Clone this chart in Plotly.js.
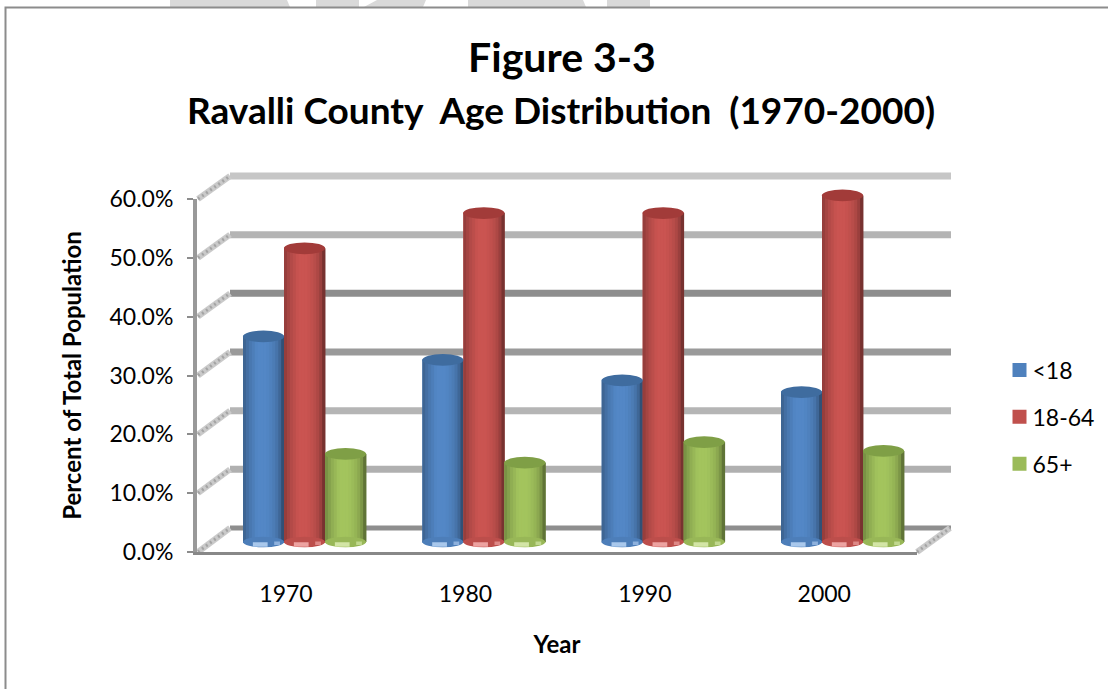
<!DOCTYPE html>
<html>
<head>
<meta charset="utf-8">
<script src="https://cdn.plot.ly/plotly-3.0.1.min.js"></script>
<style>html,body{margin:0;padding:0;background:#fff}#c{width:1108px;height:689px}</style>
</head>
<body>
<div id="c"></div>
<script>
// ---- data ----
const years = ['1970', '1980', '1990', '2000'];
const under18 = [35, 31, 27.5, 25.5];
const adults = [50, 56, 56, 59];
const over65 = [15, 13.5, 17, 15.5];
const seriesNames = ['<18', '18-64', '65+'];
const gridTicks = [0, 10, 20, 30, 40, 50, 60];
const tickLabels = ['0.0%', '10.0%', '20.0%', '30.0%', '40.0%', '50.0%', '60.0%'];

// ---- style ----
const W = 1108, H = 689;
const baseColors = [[79, 129, 189], [192, 80, 77], [155, 187, 89]];
const capColors = ['#3f6c9f', '#a23b39', '#7f9f46'];
const footColors = ['#a9c8ec', '#eda3a1', '#d3e5a6'];
const gridColors = ['#8e8e8e', '#b0b0b0', '#b5b5b5', '#9a9a9a', '#8e8e8e', '#b4b4b4', '#c6c6c6'];
const shade = [0.78, 0.86, 0.93, 0.98, 1.03, 1.05, 1.05, 1.05, 1.03, 1.0, 0.96, 0.9, 0.8, 0.62];
const FONT = 'Lato, Carlito, "Open Sans", sans-serif';

const dx = a => a / W;
const dy = a => 1 - a / H;
const rgb = (c, f) => `rgb(${c.map(v => Math.min(255, Math.round(v * f))).join(',')})`;

// three depth planes of the fake 3-D box (pixel geometry)
const front = {l: 197, r: 917, y0: 552, y60: 199};
const back = {l: 230, r: 951, y0: 528, y60: 176};
const mid = {l: 214.5, r: 934.5, y0: 553.75, y62: 177.75};
const frontY = v => front.y0 + (front.y60 - front.y0) * v / 60;
const backY = v => back.y0 + (back.y60 - back.y0) * v / 60;

const seriesValues = [under18, adults, over65];
const barW = 0.2286;
const onePx = 1 / 179.33;
const idx = years.map((_, i) => i);
const traces = [];
const shapes = [];

// remains of the background picture above the frame, then the frame itself
const bgPolys = [
  [[170, 0], [287, 0], [290, 7], [170, 7]],
  [[316, 0], [359, 0], [359, 7], [316, 7]],
  [[377, 0], [426, 0], [423, 7], [364, 7]],
  [[468, 0], [583, 0], [586, 7], [468, 7]],
  [[607, 0], [650, 0], [650, 7], [607, 7]]
];
bgPolys.forEach(p => {
  shapes.push({type: 'path', xref: 'paper', yref: 'paper', layer: 'below', line: {width: 0}, fillcolor: '#d9d9d9',
    path: 'M' + p.map(q => `${dx(q[0])},${dy(q[1])}`).join(' L') + ' Z'});
});
shapes.push({type: 'path', xref: 'paper', yref: 'paper', layer: 'below', line: {color: '#8c8c8c', width: 2},
  path: `M${dx(5.5)},0 L${dx(5.5)},${dy(7.5)} L1,${dy(7.5)}`});

const diagonal = (x0, y0, x1, y1) => {
  shapes.push({type: 'line', xref: 'paper', yref: 'paper', layer: 'below',
    x0: dx(x0), x1: dx(x1), y0: dy(y0), y1: dy(y1), line: {color: '#cacaca', width: 6}});
  shapes.push({type: 'line', xref: 'paper', yref: 'paper', layer: 'below',
    x0: dx(x0), x1: dx(x1), y0: dy(y0), y1: dy(y1), line: {color: '#a4a4a4', width: 3, dash: '2px,3px'}});
};

// back wall gridlines and side wall diagonals
gridTicks.forEach((t, i) => {
  shapes.push({type: 'line', xref: 'x2 domain', yref: 'y2', layer: 'below', x0: 0, x1: 1, y0: t, y1: t,
    line: {color: gridColors[i], width: i === 0 ? 5 : 7}});
  diagonal(front.l + 1, frontY(t), back.l, backY(t));
});
diagonal(front.r, front.y0, back.r - 1, back.y0);

// cylinders: a full-width bar plus narrow shaded strips
seriesValues.forEach((vals, s) => {
  const left = (s - 1.5) * barW;
  traces.push({type: 'bar', xaxis: 'x3', yaxis: 'y3', x: idx, y: vals, width: barW - 2 * onePx, offset: left + onePx,
    name: seriesNames[s], legendgroup: seriesNames[s], showlegend: true, hoverinfo: 'skip',
    marker: {color: rgb(baseColors[s], 1), line: {width: 2, color: rgb(baseColors[s], 1)}}});
  const sw = barW / shade.length;
  shade.forEach((f, k) => {
    traces.push({type: 'bar', xaxis: 'x3', yaxis: 'y3', x: idx, y: vals, width: sw * 1.15, offset: left + k * sw,
      name: seriesNames[s], legendgroup: seriesNames[s], showlegend: false, hoverinfo: 'skip',
      marker: {color: rgb(baseColors[s], f), line: {width: 0}}});
  });
  vals.forEach((v, i) => {
    const x0 = i + left, x1 = x0 + barW;
    // rounded foot
    shapes.push({type: 'circle', xref: 'x3', yref: 'y3', layer: 'above', x0, x1, y0: -0.9, y1: 0.9,
      fillcolor: rgb(baseColors[s], 0.98), line: {width: 0}});
    shapes.push({type: 'rect', xref: 'x3', yref: 'y3', layer: 'above',
      x0: x0 + barW * 0.24, x1: x0 + barW * 0.6, y0: -0.8, y1: -0.05,
      fillcolor: footColors[s], line: {width: 0}});
    shapes.push({type: 'rect', xref: 'x3', yref: 'y3', layer: 'above',
      x0: x0 + barW * 0.76, x1: x0 + barW * 0.9, y0: -0.5, y1: 0.1,
      fillcolor: footColors[s], opacity: 0.7, line: {width: 0}});
    // cap
    shapes.push({type: 'circle', xref: 'x3', yref: 'y3', layer: 'above', x0, x1, y0: v - 1, y1: v + 1,
      fillcolor: capColors[s], line: {width: 0}});
  });
});

// anchor traces so the front and back planes exist as subplots
traces.push({type: 'scatter', mode: 'none', x: idx, y: idx.map(() => 0), xaxis: 'x', yaxis: 'y', showlegend: false, hoverinfo: 'skip'});
traces.push({type: 'scatter', mode: 'none', x: idx, y: idx.map(() => 0), xaxis: 'x2', yaxis: 'y2', showlegend: false, hoverinfo: 'skip'});

const hidden = {showgrid: false, zeroline: false, showline: false, ticks: '', showticklabels: false, fixedrange: true};
const backUnit = (back.y0 - back.y60) / 60;

const layout = {
  width: W, height: H, autosize: false,
  margin: {l: 0, r: 0, t: 0, b: 0},
  paper_bgcolor: '#ffffff', plot_bgcolor: 'rgba(0,0,0,0)',
  barmode: 'overlay',
  font: {family: FONT, color: '#000000', size: 23},
  title: {text: '<b>Figure 3-3</b>', font: {family: FONT, size: 41, color: '#000'},
    x: 562 / W, xanchor: 'center', xref: 'paper', y: dy(58), yanchor: 'middle', yref: 'paper'},
  annotations: [{text: '<b>Ravalli County  Age Distribution  (1970-2000)</b>', xref: 'paper', yref: 'paper',
    x: 561 / W, y: dy(110), xanchor: 'center', yanchor: 'middle', showarrow: false,
    font: {family: FONT, size: 37, color: '#000'}}],
  showlegend: true,
  legend: {x: dx(999.5), y: dy(417), xanchor: 'left', yanchor: 'middle', tracegroupgap: 14,
    font: {family: FONT, size: 23, color: '#000'}, bgcolor: 'rgba(0,0,0,0)', borderwidth: 0},
  xaxis: {domain: [dx(front.l), dx(front.r)], range: [-0.496, 3.517], anchor: 'y',
    tickmode: 'array', tickvals: idx, ticktext: years, ticks: '', showgrid: false, zeroline: false,
    showline: true, linecolor: '#888888', linewidth: 3, ticklabelstandoff: 19,
    tickfont: {family: FONT, size: 23, color: '#000'},
    title: {text: '<b>Year</b>', font: {family: FONT, size: 24, color: '#000'}, standoff: 31}},
  yaxis: {domain: [dy(front.y0), dy(front.y60)], range: [0, 60], anchor: 'x',
    tickmode: 'array', tickvals: gridTicks, ticktext: tickLabels, ticks: 'outside', ticklen: 6, tickwidth: 2,
    tickcolor: '#8c8c8c', showgrid: false, zeroline: false, showline: true, linecolor: '#999999', linewidth: 4,
    ticklabelstandoff: 9, tickfont: {family: FONT, size: 23, color: '#000'},
    title: {text: '<b>Percent of Total Population</b>', font: {family: FONT, size: 24, color: '#000'}, standoff: 22}},
  xaxis2: Object.assign({domain: [dx(back.l), dx(back.r)], range: [-0.5, 3.5], anchor: 'y2'}, hidden),
  yaxis2: Object.assign({domain: [dy(back.y0 + 2 * backUnit), dy(back.y60 - 2 * backUnit)], range: [-2, 62], anchor: 'x2'}, hidden),
  xaxis3: Object.assign({domain: [dx(mid.l), dx(mid.r)], range: [-0.502, 3.513], anchor: 'y3'}, hidden),
  yaxis3: Object.assign({domain: [dy(mid.y0), dy(mid.y62)], range: [-2, 62], anchor: 'x3'}, hidden),
  shapes
};

Plotly.newPlot('c', traces, layout, {staticPlot: true, displayModeBar: false}).then(() => {
  document.querySelectorAll('#c .legendtext').forEach(t => t.setAttribute('x', 33));
});
</script>
</body>
</html>
